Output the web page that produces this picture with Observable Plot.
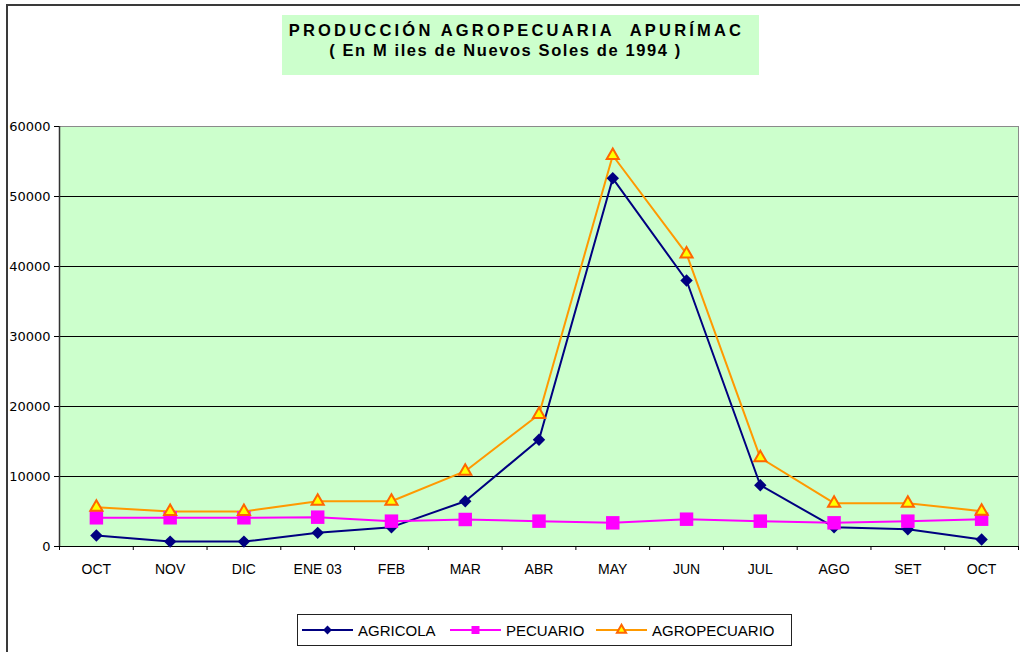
<!DOCTYPE html>
<html>
<head>
<meta charset="utf-8">
<script src="https://cdn.jsdelivr.net/npm/d3@7"></script>
<script src="https://cdn.jsdelivr.net/npm/@observablehq/plot@0.6"></script>
<style>
  html, body { margin: 0; padding: 0; background: #fff; }
  #wrap { position: relative; width: 1020px; height: 652px; overflow: hidden; background: #fff; font-family: "Liberation Sans", Arial, sans-serif; }
  #chart { position: absolute; left: 0; top: 0; }
  #outer { position: absolute; left: 6px; top: 4px; width: 1100px; height: 700px; border-left: 2px solid #3a3a3a; border-top: 2px solid #3a3a3a; box-sizing: border-box; }
  #title { position: absolute; left: 282px; top: 15px; width: 477px; height: 60px; background: #CCFFCC; font-weight: bold; color: #000; }
  #title .l1 { position: absolute; left: -8px; right: 0; top: 6px; text-align: center; font-size: 16.5px; letter-spacing: 3.2px; }
  #title .l2 { position: absolute; left: -30px; right: 0; top: 26px; text-align: center; font-size: 16.5px; letter-spacing: 1.6px; }
  #legend { position: absolute; left: 297px; top: 614px; width: 495px; height: 32px; border: 1px solid #222; box-sizing: border-box; background: #fff; }
  .item { position: absolute; top: 0; height: 30px; display: flex; align-items: center; font-size: 15px; color: #000; }
  .item svg { display: block; margin-right: 5px; }
</style>
</head>
<body>
<div id="wrap">
  <div id="chart"></div>
  <div id="outer"></div>
  <div id="title">
    <div class="l1">PRODUCCIÓN AGROPECUARIA&nbsp; APURÍMAC</div>
    <div class="l2">( En M iles de Nuevos Soles de 1994 )</div>
  </div>
  <div id="legend"></div>
</div>
<script>
const months = ["OCT", "NOV", "DIC", "ENE 03", "FEB", "MAR", "ABR", "MAY", "JUN", "JUL", "AGO", "SET", "OCT"];
const agricola = [1570, 700, 700, 1950, 2760, 6470, 15250, 52600, 38000, 8750, 2760, 2450, 1000];
const pecuario = [4100, 4100, 4100, 4190, 3620, 3860, 3620, 3380, 3900, 3620, 3380, 3620, 3900];
const agropecuario = [5620, 5000, 5000, 6470, 6470, 10760, 18860, 55860, 41800, 12670, 6190, 6190, 5050];
const yTicks = [0, 10000, 20000, 30000, 40000, 50000, 60000];
const seriesNames = ["AGRICOLA", "PECUARIO", "AGROPECUARIO"];

const series = [
  {name: seriesNames[0], values: agricola, line: "#000080", fill: "#000080", stroke: "#000080", symbol: "diamond2", r: 5.6, sw: 0},
  {name: seriesNames[1], values: pecuario, line: "#FF00FF", fill: "#FF00FF", stroke: "#FF00FF", symbol: "square", r: 7.6, sw: 0},
  {name: seriesNames[2], values: agropecuario, line: "#FF9900", fill: "#FFFF00", stroke: "#FF6600", symbol: "triangle", r: 4.5, sw: 2}
];

const xDomain = [-0.5, months.length - 0.5];
const boundaries = d3.range(months.length + 1).map(i => i - 0.5);

const marks = [
  Plot.frame({fill: "#CCFFCC", stroke: "#8a8a8a"}),
  Plot.gridY({ticks: yTicks.filter(t => t > 0 && t < 60000), stroke: "#000", strokeOpacity: 1}),
  Plot.ruleX([xDomain[0]], {stroke: "#333", strokeWidth: 1.5}),
  Plot.ruleY([0], {stroke: "#000"}),
  Plot.axisY({ticks: yTicks, tickSize: 5, tickPadding: 4, label: null, fontSize: 13, fontFamily: "DejaVu Sans", tickFormat: d => String(d)}),
  Plot.axisX({ticks: d3.range(months.length), tickFormat: i => months[i], tickSize: 0, tickPadding: 18, label: null, fontSize: 14}),
  Plot.axisX({ticks: boundaries, tickSize: 4, tickFormat: () => "", label: null})
];

for (const s of series) {
  const rows = s.values.map((v, i) => ({i, v}));
  marks.push(Plot.line(rows, {x: "i", y: "v", stroke: s.line, strokeWidth: 2}));
}
for (const s of series) {
  const rows = s.values.map((v, i) => ({i, v}));
  marks.push(Plot.dot(rows, {x: "i", y: "v", symbol: () => s.symbol, r: s.r, fill: s.fill, stroke: s.stroke, strokeWidth: s.sw}));
}

const chart = Plot.plot({
  width: 1020,
  height: 652,
  marginTop: 126,
  marginBottom: 106,
  marginLeft: 59,
  marginRight: 2,
  style: {background: "transparent", fontFamily: "'Liberation Sans', Arial, sans-serif", fontSize: "14px", color: "#000"},
  x: {type: "linear", domain: xDomain},
  y: {domain: [0, 60000]},
  symbol: {type: "identity"},
  marks
});
document.getElementById("chart").appendChild(chart);

// Legend
const legend = document.getElementById("legend");
const legendLeft = [4, 152, 298];
series.forEach((s, k) => {
  const item = document.createElement("div");
  item.className = "item";
  item.style.left = legendLeft[k] + "px";
  const svg = d3.create("svg").attr("width", 51).attr("height", 16);
  svg.append("line").attr("x1", 0).attr("x2", 51).attr("y1", 8).attr("y2", 8).attr("stroke", s.line).attr("stroke-width", 2);
  const sym = {diamond2: d3.symbolDiamond2, square: d3.symbolSquare, triangle: d3.symbolTriangle}[s.symbol];
  const size = s.symbol === "square" ? 64 : s.symbol === "diamond2" ? 50 : 36;
  svg.append("path").attr("transform", "translate(25.5,8)").attr("d", d3.symbol(sym, size)())
    .attr("fill", s.fill).attr("stroke", s.stroke).attr("stroke-width", s.sw);
  item.appendChild(svg.node());
  const t = document.createElement("span");
  t.textContent = s.name;
  item.appendChild(t);
  legend.appendChild(item);
});
</script>
</body>
</html>
